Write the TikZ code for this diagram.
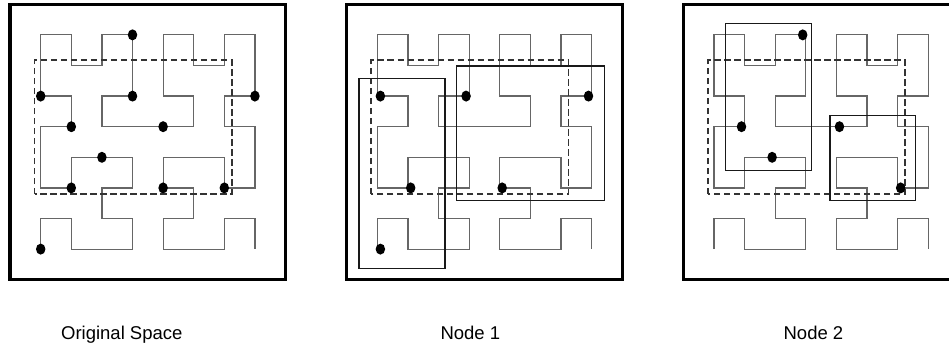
\documentclass[tikz,border=0pt]{standalone}
\usepackage{fontspec}
\setmainfont{Liberation Sans}
\usepackage{tikz}
\usetikzlibrary{calc}

\begin{document}
\begin{tikzpicture}[x=30.6pt,y=30.6pt,
    rahmen/.style={line width=3.3pt},
    kurve/.style={line width=1.2pt,black!60},
    bereich/.style={line width=1.6pt,black!80,dash pattern=on 6.5pt off 3.5pt},
    knoten/.style={line width=1.3pt,black!90},
    beschriftung/.style={anchor=base,font=\fontsize{18.5}{22}\selectfont}]
    \useasboundingbox (-1.33,-3.2) rectangle (29.68,8.14);
    % drei Felder nebeneinander, jeweils mit Rahmen, Hilbert-Kurve und
    % gestricheltem Anfragebereich
    \foreach \s in {0,11,22}{
      \begin{scope}[shift={(\s,0)}]
        \draw[rahmen] (-1,-1) rectangle (8,8);
        \draw[kurve] (0,0) -- (0,1) -- (1,1) -- (1,0) -- (3,0) -- (3,1)
          -- (2,1) -- (2,2) -- (3,2) -- (3,3) -- (1,3) -- (1,2) -- (0,2)
          -- (0,4) -- (1,4) -- (1,5) -- (0,5) -- (0,7) -- (1,7) -- (1,6)
          -- (2,6) -- (2,7) -- (3,7) -- (3,5) -- (2,5) -- (2,4) -- (5,4)
          -- (5,5) -- (4,5) -- (4,7) -- (5,7) -- (5,6) -- (6,6) -- (6,7)
          -- (7,7) -- (7,5) -- (6,5) -- (6,4) -- (7,4) -- (7,2) -- (6,2)
          -- (6,3) -- (4,3) -- (4,2) -- (5,2) -- (5,1) -- (4,1) -- (4,0)
          -- (6,0) -- (6,1) -- (7,1) -- (7,0);
        \draw[bereich] (-0.2,1.8) rectangle (6.25,6.17);
      \end{scope}
    }
    % Originalraum: alle Punkte
    \foreach \x/\y in {3/7,0/5,3/5,7/5,1/4,4/4,2/3,1/2,4/2,6/2,0/0}
      \fill (\x,\y) ellipse [x radius=0.155,y radius=0.18];
    % Knoten 1
    \begin{scope}[shift={(11,0)}]
      \draw[knoten] (-0.6,-0.63) rectangle (2.21,5.58);
      \draw[knoten] (2.59,1.58) rectangle (7.43,5.98);
      \foreach \x/\y in {0.1/5,2.9/5,6.9/5,1.09/2,4.08/2,0.1/0}
        \fill (\x,\y) ellipse [x radius=0.155,y radius=0.18];
    \end{scope}
    % Knoten 2
    \begin{scope}[shift={(22,0)}]
      \draw[knoten] (0.38,2.57) rectangle (3.19,7.38);
      \draw[knoten] (3.79,1.58) rectangle (6.59,4.37);
      \foreach \x/\y in {2.9/7,0.9/4,1.9/3,4.1/4,6.1/2}
        \fill (\x,\y) ellipse [x radius=0.155,y radius=0.18];
    \end{scope}
    \node[beschriftung] (orig) at (2.65,-2.94) {Original Space};
    \node[beschriftung] (k1) at (14.04,-2.94) {Node 1};
    \node[beschriftung] (k2) at (25.25,-2.94) {Node 2};
  \end{tikzpicture}
\end{document}
